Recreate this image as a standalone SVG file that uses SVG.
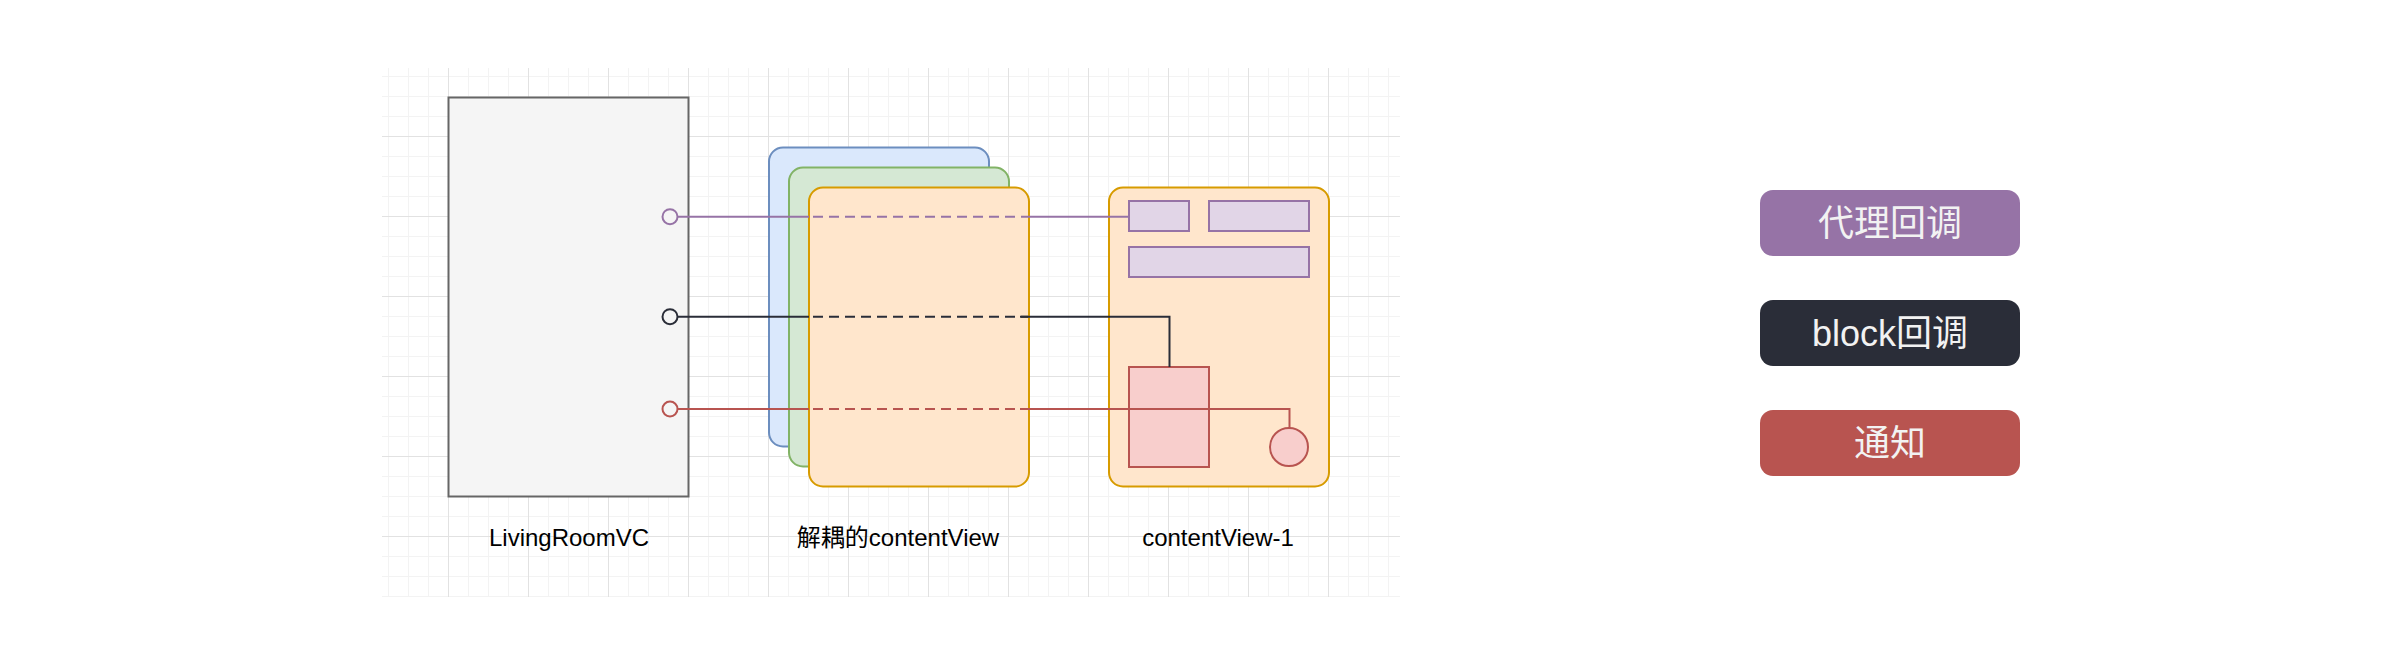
<svg xmlns="http://www.w3.org/2000/svg" width="2400" height="662" viewBox="0 0 2400 662">
  <defs>
    <pattern id="grid" patternUnits="userSpaceOnUse" x="48" y="56" width="80" height="80">
      <rect x="0" y="0" width="80" height="80" fill="#ffffff"/>
      <g fill="#f3f3f3">
        <rect x="20" y="0" width="1" height="80"/>
        <rect x="40" y="0" width="1" height="80"/>
        <rect x="60" y="0" width="1" height="80"/>
        <rect x="0" y="20" width="80" height="1"/>
        <rect x="0" y="40" width="80" height="1"/>
        <rect x="0" y="60" width="80" height="1"/>
      </g>
      <g fill="#e2e2e2">
        <rect x="0" y="0" width="1" height="80"/>
        <rect x="0" y="0" width="80" height="1"/>
      </g>
    </pattern>
    <style>
      .label { font-family: "Liberation Sans", "Noto Sans CJK SC", sans-serif; font-size: 24px; fill: #000000; text-anchor: middle; }
      .btntext { font-family: "Liberation Sans", "Noto Sans CJK SC", sans-serif; font-size: 36px; fill: #f2f2f2; text-anchor: middle; }
      .blue { fill: #dae8fc; stroke: #6c8ebf; stroke-width: 2; }
      .green { fill: #d5e8d4; stroke: #82b366; stroke-width: 2; }
      .orange { fill: #ffe6cc; stroke: #d79b00; stroke-width: 2; }
      .purple { fill: #e1d5e7; stroke: #9673a6; stroke-width: 2; }
      .red { fill: #f8cecc; stroke: #b85450; stroke-width: 2; }
      .ln { fill: none; stroke-width: 2; }
      .dash { stroke-dasharray: 10 6; stroke-dashoffset: 12; }
      .cP { stroke: #9673a6; }
      .cB { stroke: #2a2d38; }
      .cR { stroke: #b85450; }
    </style>
  </defs>
  <rect x="0" y="0" width="2400" height="662" fill="#ffffff"/>
  <rect x="382" y="68" width="1018" height="529" fill="url(#grid)"/>

  <g id="livingRoomVC">
    <rect x="448.5" y="97.5" width="240" height="399" fill="#f5f5f5" stroke="#666666" stroke-width="2"/>
    <text class="label" x="569" y="546">LivingRoomVC</text>
  </g>

  <g id="decoupledContentView">
    <rect class="blue" x="769" y="147.5" width="220" height="299" rx="14" ry="14"/>
    <rect class="green" x="789" y="167.5" width="220" height="299" rx="14" ry="14"/>
    <rect class="orange" x="809" y="187.5" width="220" height="299" rx="14" ry="14"/>
    <text class="label" x="898" y="546">解耦的contentView</text>
  </g>

  <g id="contentView1">
    <rect class="orange" x="1109" y="187.5" width="220" height="299" rx="14" ry="14"/>
    <text class="label" x="1218" y="546">contentView-1</text>
  </g>
  <g id="subviewA"><rect class="purple" x="1129" y="201" width="60" height="30"/></g>
  <g id="subviewB"><rect class="purple" x="1209" y="201" width="100" height="30"/></g>
  <g id="subviewC"><rect class="purple" x="1129" y="247" width="180" height="30"/></g>
  <g id="blockTarget"><rect class="red" x="1129" y="367" width="80" height="100"/></g>
  <g id="notifyTarget"><circle class="red" cx="1289" cy="447" r="19"/></g>

  <g id="connectors">
    <circle class="ln cP" cx="670" cy="216.7" r="7.5"/>
    <path class="ln cP" d="M678 216.7 H809"/>
    <path class="ln cP dash" d="M809 216.7 H1028"/>
    <path class="ln cP" d="M1028 216.7 H1129"/>

    <circle class="ln cB" cx="670" cy="316.7" r="7.5"/>
    <path class="ln cB" d="M678 316.7 H809"/>
    <path class="ln cB dash" d="M809 316.7 H1028"/>
    <path class="ln cB" d="M1020 316.7 H1169.5 V367"/>

    <circle class="ln cR" cx="670" cy="409" r="7.5"/>
    <path class="ln cR" d="M678 409 H809"/>
    <path class="ln cR dash" d="M809 409 H1028"/>
    <path class="ln cR" d="M1020 409 H1289.5 V428"/>
  </g>

  <g id="legendDelegate">
    <rect x="1760" y="190" width="260" height="66" rx="13" ry="13" fill="#9673a6"/>
    <text class="btntext" x="1890" y="235.5">代理回调</text>
  </g>
  <g id="legendBlock">
    <rect x="1760" y="300" width="260" height="66" rx="13" ry="13" fill="#2a2d38"/>
    <text class="btntext" x="1890" y="345.5">block回调</text>
  </g>
  <g id="legendNotify">
    <rect x="1760" y="410" width="260" height="66" rx="13" ry="13" fill="#b85450"/>
    <text class="btntext" x="1890" y="455.5">通知</text>
  </g>
</svg>
